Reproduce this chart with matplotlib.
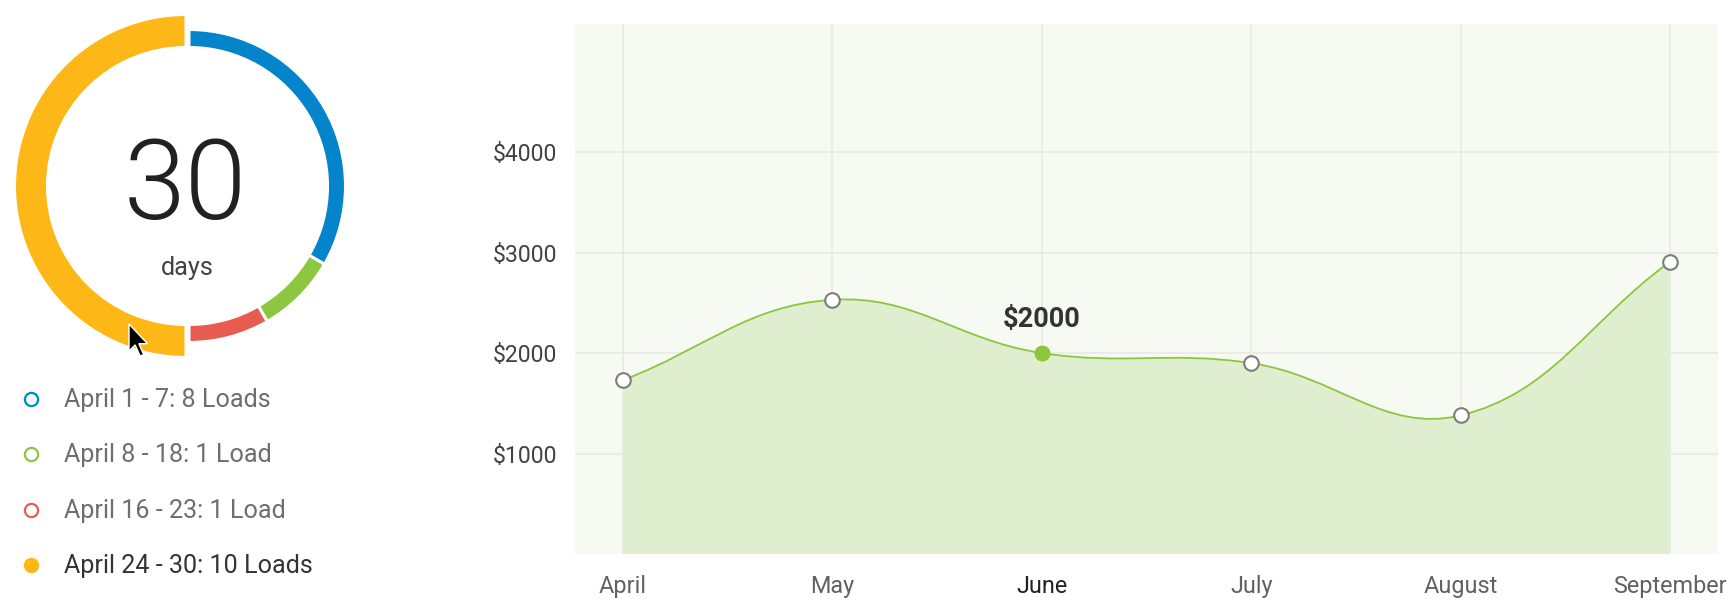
import numpy as np
import matplotlib
matplotlib.use("Agg")
import matplotlib.pyplot as plt
from matplotlib.path import Path
from matplotlib.patches import PathPatch, Polygon

plt.rcParams['font.family'] = ['Roboto', 'DejaVu Sans']

# ---------------- data ----------------
load_ranges = ["April 1 - 7", "April 8 - 18", "April 16 - 23", "April 24 - 30"]
load_counts = [8, 1, 1, 10]
ring_shares = [8, 2, 2, 12]          # arc sizes as drawn in the ring
ring_colors = ["#0384cb", "#8dc63f", "#e85b50", "#fdb817"]
highlighted_range = 3
period_value = "30"
period_unit = "days"

months = ["April", "May", "June", "July", "August", "September"]
revenue = [1730, 2530, 2000, 1900, 1380, 2910]
active_month = 2
y_ticks = [1000, 2000, 3000, 4000]
y_tick_labels = ["$1000", "$2000", "$3000", "$4000"]

# ---------------- figure ----------------
W, H = 1728, 600
fig = plt.figure(figsize=(W / 100, H / 100), dpi=100)
fig.patch.set_facecolor("white")

# ---- left panel (pixel coordinates, y down) ----
axL = fig.add_axes([0, 0, 400 / W, 1])
cx, cy = 189, 186
wedges, _ = axL.pie(ring_shares, colors=ring_colors, radius=156.5, center=(cx, cy),
                    startangle=-90, counterclock=True,
                    wedgeprops=dict(width=18, edgecolor="white", linewidth=2.2))
hw = wedges[highlighted_range]
hw.set_radius(171.5)
hw.set_width(33)
hw.set_center((cx - 3, cy))
axL.set_xlim(0, 400)
axL.set_ylim(600, 0)
axL.axis("off")

axL.text(cx - 4, cy + 2, period_value, ha="center", va="center", fontsize=80,
         fontweight=300, color="#212121")
axL.text(cx - 2, cy + 82, period_unit, ha="center", va="center", fontsize=18.2, color="#424242")

# cursor arrow
cur = np.array([(0, 0), (0, 22), (5, 17), (9, 26), (12, 25), (8, 16), (15, 16)]) * 1.23
cur = cur + np.array([129, 324])
axL.add_patch(Polygon(cur, closed=True, facecolor="black", edgecolor="white", lw=1.0, zorder=5))

# legend
row_y = [399, 454, 510, 565]
for i, (rng, n) in enumerate(zip(load_ranges, load_counts)):
    label = f"{rng}: {n} {'Load' if n == 1 else 'Loads'}"
    active = (i == highlighted_range)
    axL.plot([31], [row_y[i]], marker="o", ms=9.5, mew=1.6,
             mec=ring_colors[i], mfc=ring_colors[i] if active else "white", ls="none")
    axL.text(64, row_y[i] + 1, label, ha="left", va="center", fontsize=18.1,
             color="#333333" if active else "#6e6e6e")

# ---- right panel: line chart ----
axR = fig.add_axes([575 / W, 1 - 554 / H, (1718 - 575) / W, (554 - 24) / H])
x = np.arange(len(months))
axR.set_xlim(-0.229, 5.229)
axR.set_ylim(0, 5275)
axR.set_facecolor("#f7faf3")
for s in axR.spines.values():
    s.set_visible(False)
axR.set_xticks(x)
axR.set_xticklabels(months)
axR.set_yticks(y_ticks)
axR.set_yticklabels(y_tick_labels)
axR.tick_params(axis="both", length=0)
axR.tick_params(axis="x", pad=15, colors="#616161", labelsize=16.8)
axR.tick_params(axis="y", pad=13, colors="#424242", labelsize=16.6)
for i, t in enumerate(axR.get_xticklabels()):
    if i == active_month:
        t.set_color("#212121")
axR.grid(True, color="#e7ebe3", lw=1.2, zorder=0)
axR.set_axisbelow(True)

# Chart.js-style bezier through points (computed in pixel space)
pts = axR.transData.transform(np.column_stack([x, revenue]))
n = len(pts)
cps = []
tension = 0.4
for i in range(n):
    p0 = pts[max(i - 1, 0)]
    p1 = pts[i]
    p2 = pts[min(i + 1, n - 1)]
    d01 = np.hypot(*(p1 - p0))
    d12 = np.hypot(*(p2 - p1))
    s01 = d01 / (d01 + d12)
    s12 = d12 / (d01 + d12)
    cps.append((p1 - tension * s01 * (p2 - p0), p1 + tension * s12 * (p2 - p0)))
verts = [pts[0]]
codes = [Path.MOVETO]
for i in range(n - 1):
    verts += [cps[i][1], cps[i + 1][0], pts[i + 1]]
    codes += [Path.CURVE4] * 3
inv = axR.transData.inverted()
verts_d = inv.transform(np.array(verts))

fill_verts = np.vstack([verts_d, [[x[-1], 0], [x[0], 0], verts_d[0]]])
fill_codes = codes + [Path.LINETO, Path.LINETO, Path.CLOSEPOLY]
axR.add_patch(PathPatch(Path(fill_verts, fill_codes), facecolor="#dfeecf",
                        edgecolor="none", zorder=1))
axR.add_patch(PathPatch(Path(verts_d, codes), facecolor="none",
                        edgecolor="#8cc63e", lw=1.3, zorder=2))

xs_norm = [xi for i, xi in enumerate(x) if i != active_month]
ys_norm = [v for i, v in enumerate(revenue) if i != active_month]
axR.plot(xs_norm, ys_norm, "o", ms=10.5, mfc="white", mec="#7d7d7d", mew=1.5, zorder=4)
axR.plot([x[active_month]], [revenue[active_month]], "o", ms=10.5, mfc="#8cc63e",
         mec="#8cc63e", zorder=4)
axR.annotate(f"${revenue[active_month]}", (x[active_month], revenue[active_month]),
             xytext=(0, 24), textcoords="offset points", ha="center", va="center",
             fontsize=19.5, fontweight="bold", color="#333333", zorder=5)

fig.savefig("out.png", dpi=100, facecolor="white")
